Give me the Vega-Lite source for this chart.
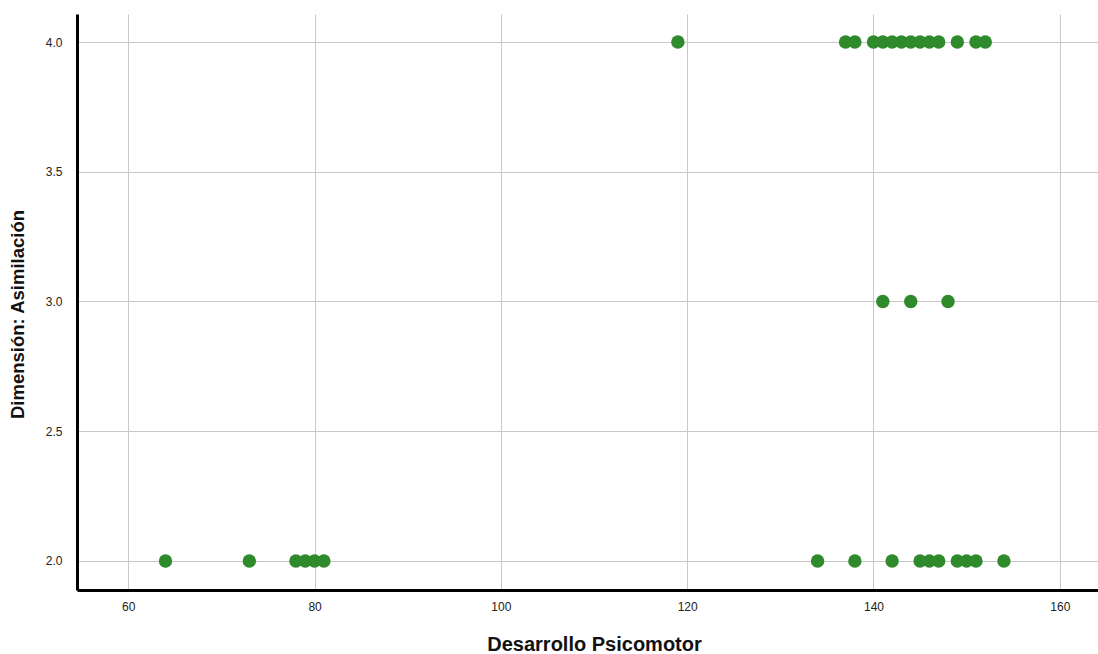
{
  "$schema": "https://vega.github.io/schema/vega-lite/v6.json",
  "width": 1021,
  "height": 576,
  "autosize": "none",
  "padding": {"left": 77, "top": 14, "right": 0, "bottom": 64},
  "background": "white",
  "config": {"view": {"stroke": null}, "font": "Liberation Sans"},
  "data": {"values": [
    {"x": 119, "y": 4}, {"x": 137, "y": 4}, {"x": 138, "y": 4}, {"x": 140, "y": 4}, {"x": 141, "y": 4}, {"x": 142, "y": 4}, {"x": 143, "y": 4}, {"x": 144, "y": 4}, {"x": 145, "y": 4}, {"x": 146, "y": 4}, {"x": 147, "y": 4}, {"x": 149, "y": 4}, {"x": 151, "y": 4}, {"x": 152, "y": 4},
    {"x": 141, "y": 3}, {"x": 144, "y": 3}, {"x": 148, "y": 3},
    {"x": 64, "y": 2}, {"x": 73, "y": 2}, {"x": 78, "y": 2}, {"x": 79, "y": 2}, {"x": 80, "y": 2}, {"x": 81, "y": 2}, {"x": 134, "y": 2}, {"x": 138, "y": 2}, {"x": 142, "y": 2}, {"x": 145, "y": 2}, {"x": 146, "y": 2}, {"x": 147, "y": 2}, {"x": 149, "y": 2}, {"x": 150, "y": 2}, {"x": 151, "y": 2}, {"x": 154, "y": 2}
  ]},
  "mark": {"type": "circle", "size": 180, "color": "#2e8a2a", "opacity": 1},
  "encoding": {
    "x": {"field": "x", "type": "quantitative", "title": "Desarrollo Psicomotor",
      "scale": {"domain": [54.5, 164.1], "nice": false, "zero": false},
      "axis": {"values": [60, 80, 100, 120, 140, 160], "ticks": false, "labelPadding": 11, "labelFontSize": 12, "labelColor": "#222", "domainColor": "black", "domainWidth": 3, "gridColor": "#c8c8c8", "gridWidth": 1, "titleFontSize": 20, "titleFontWeight": "bold", "titleColor": "#111", "titlePadding": 22, "titleX": 517}},
    "y": {"field": "y", "type": "quantitative", "title": "Dimensión: Asimilación",
      "scale": {"domain": [1.888, 4.108], "nice": false, "zero": false},
      "axis": {"values": [2, 2.5, 3, 3.5, 4], "format": ".1f", "ticks": false, "labelPadding": 15, "labelFontSize": 12, "labelColor": "#222", "domainColor": "black", "domainWidth": 3, "gridColor": "#c8c8c8", "gridWidth": 1, "titleFontSize": 18.5, "titleFontWeight": "bold", "titleColor": "#111", "titlePadding": 18, "titleY": 300}}
  }
}
